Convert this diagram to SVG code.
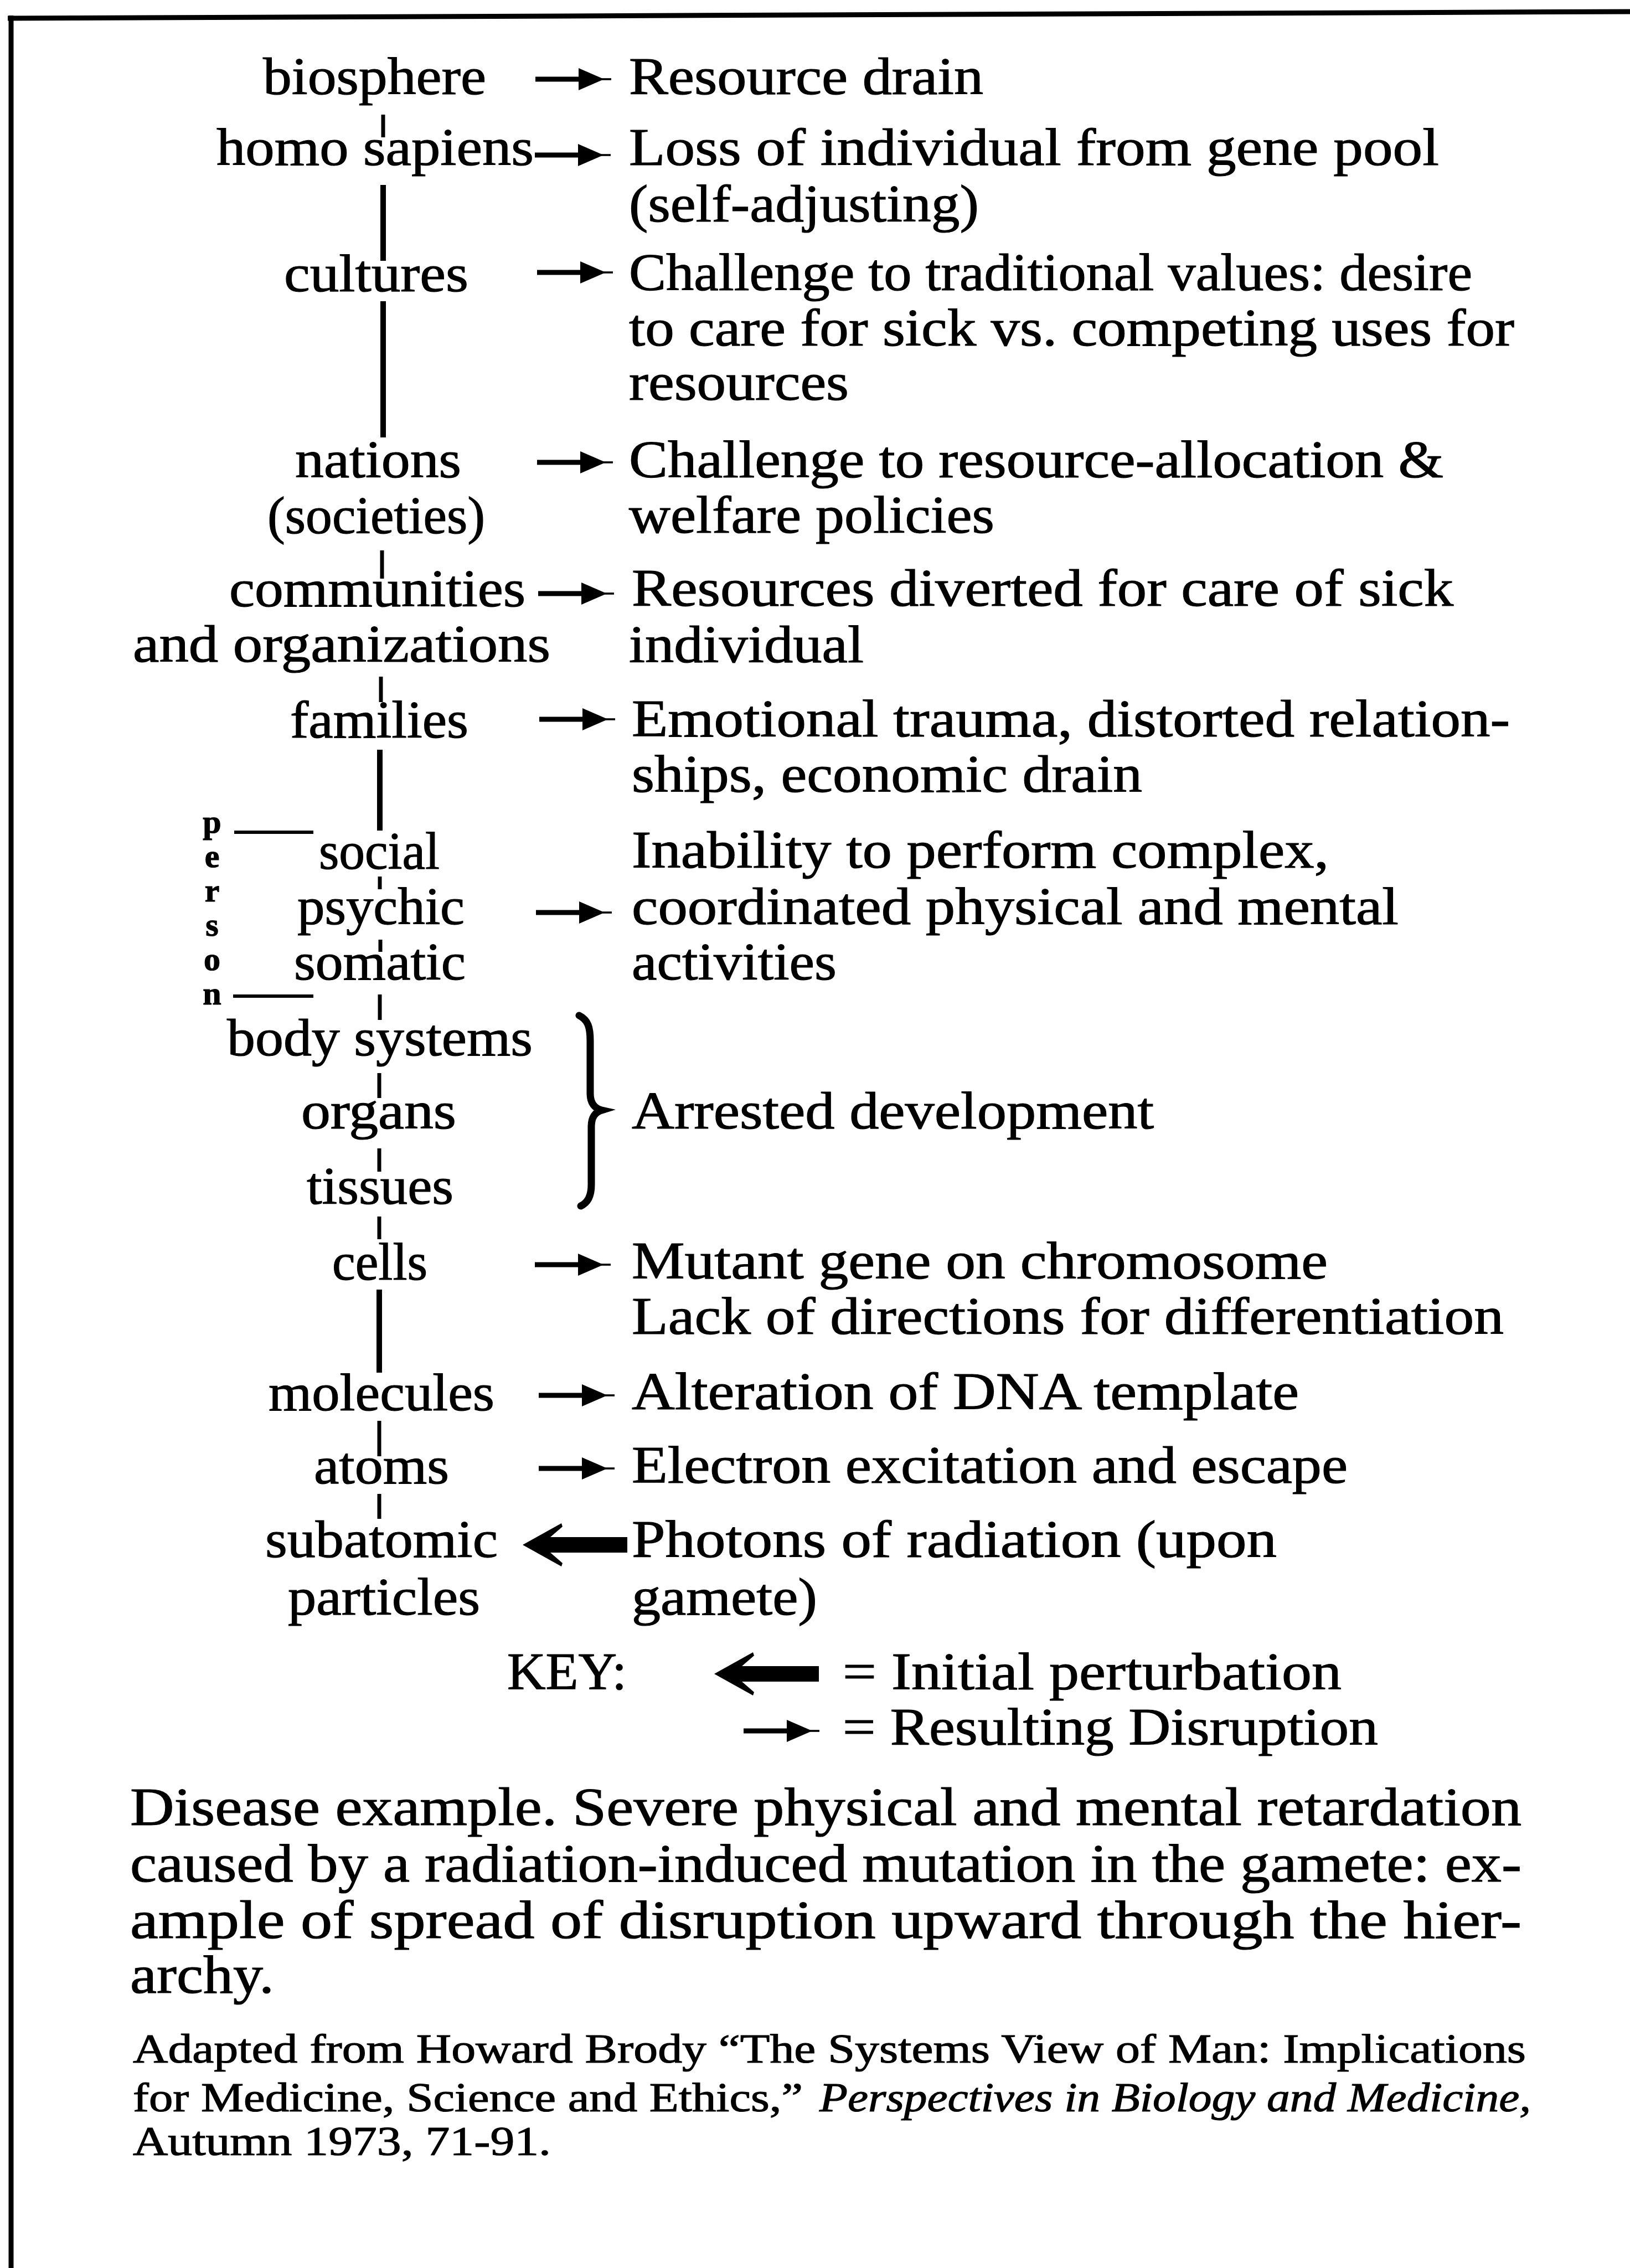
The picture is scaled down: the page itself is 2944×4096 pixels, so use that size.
<svg xmlns="http://www.w3.org/2000/svg" xmlns:xlink="http://www.w3.org/1999/xlink" width="2944" height="4096" viewBox="0 0 2944 4096">
<style>
text{font-family:"Liberation Serif","Times New Roman",serif;fill:#000;stroke:#000;stroke-width:1.2px}
.m{font-size:96px}
.c{font-size:98px}
.r{font-size:74px}
.i{font-size:74px;font-style:italic}
.p{font-size:60px;font-weight:bold;writing-mode:vertical-rl;text-orientation:upright;letter-spacing:-4px}
.stem{stroke:#000;stroke-width:10;fill:none}
.tick{stroke:#000;stroke-width:7;fill:none}
.rule{stroke:#000;stroke-width:6;fill:none}
.frame{stroke:#000;stroke-width:9;fill:none}
</style>
<defs>
<g id="ra"><rect x="0" y="-4.5" width="84" height="9"/><polygon points="78,-20 78,20 124,0"/><rect x="100" y="-1.8" width="37" height="3.6"/></g>
<g id="la"><polygon points="0,0 70,-39 72,-33 50,-14 189,-14 189,14 50,14 72,33 70,39"/></g>
</defs>
<rect x="0" y="0" width="2944" height="4096" fill="#fff"/>
<g id="frame">
<line class="frame" x1="14" y1="33" x2="2944" y2="21"/>
<line class="frame" x1="20" y1="28" x2="20" y2="4096"/>
</g>
<g id="connectors">
<line class="tick" x1="692" y1="207" x2="692" y2="248"/>
<line class="stem" x1="692" y1="334" x2="692" y2="471"/>
<line class="stem" x1="692" y1="544" x2="692" y2="790"/>
<line class="tick" x1="690" y1="994" x2="690" y2="1045"/>
<line class="tick" x1="688" y1="1222" x2="688" y2="1268"/>
<line class="stem" x1="686" y1="1354" x2="686" y2="1500"/>
<line class="tick" x1="686" y1="1583" x2="686" y2="1606"/>
<line class="tick" x1="687" y1="1697" x2="687" y2="1719"/>
<line class="tick" x1="686" y1="1796" x2="686" y2="1842"/>
<line class="tick" x1="685" y1="1938" x2="685" y2="1983"/>
<line class="tick" x1="685" y1="2074" x2="685" y2="2116"/>
<line class="tick" x1="685" y1="2197" x2="685" y2="2238"/>
<line class="stem" x1="685" y1="2329" x2="685" y2="2479"/>
<line class="tick" x1="685" y1="2566" x2="685" y2="2630"/>
<line class="tick" x1="685" y1="2698" x2="685" y2="2743"/>
<line class="rule" x1="423" y1="1503" x2="566" y2="1503"/>
<line class="rule" x1="421" y1="1799" x2="566" y2="1799"/>
<path d="M1046,1834 C1062,1842 1066,1855 1066,1880 L1066,1975 C1066,1992 1074,2002 1087,2005 C1074,2009 1068,2018 1068,2035 L1068,2140 C1068,2160 1062,2172 1049,2178" stroke="#000" stroke-width="13" fill="none" stroke-linecap="round"/>
<use xlink:href="#ra" x="967" y="143"/>
<use xlink:href="#ra" x="966" y="280"/>
<use xlink:href="#ra" x="970" y="492"/>
<use xlink:href="#ra" x="970" y="835"/>
<use xlink:href="#ra" x="972" y="1072"/>
<use xlink:href="#ra" x="974" y="1299"/>
<use xlink:href="#ra" x="968" y="1648"/>
<use xlink:href="#ra" x="966" y="2284"/>
<use xlink:href="#ra" x="973" y="2520"/>
<use xlink:href="#ra" x="973" y="2652"/>
<use xlink:href="#la" x="944" y="2790"/>
</g>
<g id="n-biosphere"><text class="m" x="475" y="170" textLength="403" lengthAdjust="spacingAndGlyphs">biosphere</text></g>
<g id="d-biosphere"><text class="m" x="1136" y="170" textLength="640" lengthAdjust="spacingAndGlyphs">Resource drain</text></g>
<g id="n-homo"><text class="m" x="391" y="298" textLength="573" lengthAdjust="spacingAndGlyphs">homo sapiens</text></g>
<g id="d-homo"><text class="m" x="1136" y="298" textLength="1463" lengthAdjust="spacingAndGlyphs">Loss of individual from gene pool</text><text class="m" x="1136" y="400" textLength="632" lengthAdjust="spacingAndGlyphs">(self-adjusting)</text></g>
<g id="n-cultures"><text class="m" x="513" y="526" textLength="333" lengthAdjust="spacingAndGlyphs">cultures</text></g>
<g id="d-cultures"><text class="m" x="1136" y="524" textLength="1523" lengthAdjust="spacingAndGlyphs">Challenge to traditional values: desire</text><text class="m" x="1136" y="624" textLength="1599" lengthAdjust="spacingAndGlyphs">to care for sick vs. competing uses for</text><text class="m" x="1136" y="722" textLength="397" lengthAdjust="spacingAndGlyphs">resources</text></g>
<g id="n-nations"><text class="m" x="533" y="862" textLength="300" lengthAdjust="spacingAndGlyphs">nations</text><text class="m" x="483" y="963" textLength="393" lengthAdjust="spacingAndGlyphs">(societies)</text></g>
<g id="d-nations"><text class="m" x="1136" y="862" textLength="1471" lengthAdjust="spacingAndGlyphs">Challenge to resource-allocation &amp;</text><text class="m" x="1136" y="962" textLength="660" lengthAdjust="spacingAndGlyphs">welfare policies</text></g>
<g id="n-communities"><text class="m" x="414" y="1095" textLength="535" lengthAdjust="spacingAndGlyphs">communities</text><text class="m" x="240" y="1195" textLength="754" lengthAdjust="spacingAndGlyphs">and organizations</text></g>
<g id="d-communities"><text class="m" x="1141" y="1094" textLength="1484" lengthAdjust="spacingAndGlyphs">Resources diverted for care of sick</text><text class="m" x="1136" y="1196" textLength="424" lengthAdjust="spacingAndGlyphs">individual</text></g>
<g id="n-families"><text class="m" x="524" y="1332" textLength="322" lengthAdjust="spacingAndGlyphs">families</text></g>
<g id="d-families"><text class="m" x="1141" y="1330" textLength="1586" lengthAdjust="spacingAndGlyphs">Emotional trauma, distorted relation-</text><text class="m" x="1141" y="1430" textLength="922" lengthAdjust="spacingAndGlyphs">ships, economic drain</text></g>
<g id="n-person">
<text class="p" x="383" y="1451">person</text>
<text class="m" x="576" y="1569" textLength="218" lengthAdjust="spacingAndGlyphs">social</text>
<text class="m" x="537" y="1669" textLength="302" lengthAdjust="spacingAndGlyphs">psychic</text>
<text class="m" x="531" y="1769" textLength="310" lengthAdjust="spacingAndGlyphs">somatic</text>
</g>
<g id="d-person"><text class="m" x="1141" y="1567" textLength="1259" lengthAdjust="spacingAndGlyphs">Inability to perform complex,</text><text class="m" x="1141" y="1669" textLength="1385" lengthAdjust="spacingAndGlyphs">coordinated physical and mental</text><text class="m" x="1141" y="1769" textLength="370" lengthAdjust="spacingAndGlyphs">activities</text></g>
<g id="n-body"><text class="m" x="410" y="1906" textLength="552" lengthAdjust="spacingAndGlyphs">body systems</text></g>
<g id="n-organs"><text class="m" x="544" y="2038" textLength="280" lengthAdjust="spacingAndGlyphs">organs</text></g>
<g id="n-tissues"><text class="m" x="554" y="2174" textLength="265" lengthAdjust="spacingAndGlyphs">tissues</text></g>
<g id="d-body"><text class="m" x="1141" y="2038" textLength="943" lengthAdjust="spacingAndGlyphs">Arrested development</text></g>
<g id="n-cells"><text class="m" x="600" y="2311" textLength="172" lengthAdjust="spacingAndGlyphs">cells</text></g>
<g id="d-cells"><text class="m" x="1141" y="2309" textLength="1257" lengthAdjust="spacingAndGlyphs">Mutant gene on chromosome</text><text class="m" x="1141" y="2409" textLength="1575" lengthAdjust="spacingAndGlyphs">Lack of directions for differentiation</text></g>
<g id="n-molecules"><text class="m" x="485" y="2547" textLength="408" lengthAdjust="spacingAndGlyphs">molecules</text></g>
<g id="d-molecules"><text class="m" x="1141" y="2545" textLength="1205" lengthAdjust="spacingAndGlyphs">Alteration of DNA template</text></g>
<g id="n-atoms"><text class="m" x="567" y="2679" textLength="244" lengthAdjust="spacingAndGlyphs">atoms</text></g>
<g id="d-atoms"><text class="m" x="1141" y="2678" textLength="1293" lengthAdjust="spacingAndGlyphs">Electron excitation and escape</text></g>
<g id="n-subatomic"><text class="m" x="479" y="2812" textLength="420" lengthAdjust="spacingAndGlyphs">subatomic</text><text class="m" x="520" y="2916" textLength="347" lengthAdjust="spacingAndGlyphs">particles</text></g>
<g id="d-subatomic"><text class="m" x="1141" y="2812" textLength="1165" lengthAdjust="spacingAndGlyphs">Photons of radiation (upon</text><text class="m" x="1141" y="2916" textLength="335" lengthAdjust="spacingAndGlyphs">gamete)</text></g>
<g id="key">
<text class="m" x="916" y="3051" textLength="216" lengthAdjust="spacingAndGlyphs">KEY:</text>
<use xlink:href="#la" x="1290" y="3023"/>
<text class="m" x="1522" y="3051" textLength="901" lengthAdjust="spacingAndGlyphs">= Initial perturbation</text>
<use xlink:href="#ra" x="1343" y="3126"/>
<text class="m" x="1522" y="3151" textLength="967" lengthAdjust="spacingAndGlyphs">= Resulting Disruption</text>
</g>
<g id="caption">
<text class="c" x="235" y="3296" textLength="2513" lengthAdjust="spacingAndGlyphs">Disease example. Severe physical and mental retardation</text>
<text class="c" x="235" y="3398" textLength="2513" lengthAdjust="spacingAndGlyphs">caused by a radiation-induced mutation in the gamete: ex-</text>
<text class="c" x="235" y="3500" textLength="2513" lengthAdjust="spacingAndGlyphs">ample of spread of disruption upward through the hier-</text>
<text class="c" x="235" y="3599" textLength="260" lengthAdjust="spacingAndGlyphs">archy.</text>
</g>
<g id="citation">
<text class="r" x="240" y="3725" textLength="2516" lengthAdjust="spacingAndGlyphs">Adapted from Howard Brody “The Systems View of Man: Implications</text>
<text class="r" x="240" y="3813" textLength="1210" lengthAdjust="spacingAndGlyphs">for Medicine, Science and Ethics,”</text>
<text class="i" x="1480" y="3813" textLength="1285" lengthAdjust="spacingAndGlyphs">Perspectives in Biology and Medicine,</text>
<text class="r" x="240" y="3892" textLength="755" lengthAdjust="spacingAndGlyphs">Autumn 1973, 71-91.</text>
</g>
</svg>
